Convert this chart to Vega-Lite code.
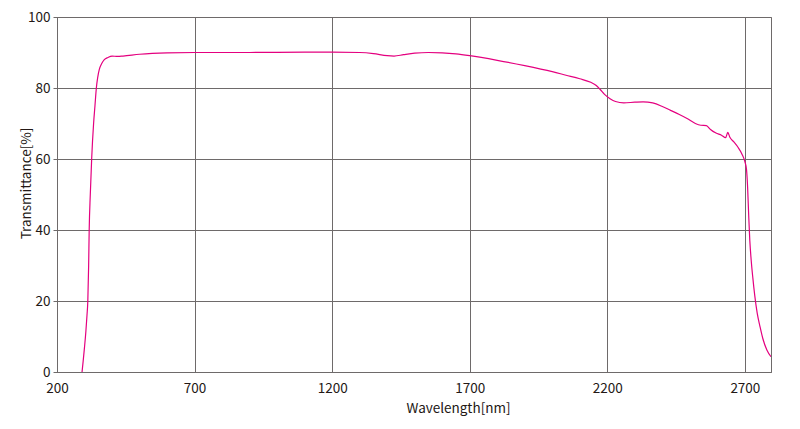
{
  "$schema": "https://vega.github.io/schema/vega-lite/v6.json",
  "width": 714,
  "height": 355,
  "autosize": {"type": "none"},
  "padding": {"left": 57, "top": 17, "right": 29, "bottom": 57},
  "background": "white",
  "config": {
    "font": "Noto Sans CJK JP",
    "view": {"stroke": "#6e6a6a", "strokeWidth": 1},
    "axis": {
      "labelFont": "Noto Sans CJK JP",
      "titleFont": "Noto Sans CJK JP",
      "labelFontSize": 13.5,
      "titleFontSize": 13.5,
      "labelColor": "#231815",
      "titleColor": "#231815",
      "titleFontWeight": "normal",
      "gridColor": "#6e6a6a",
      "gridOpacity": 1,
      "gridWidth": 1,
      "domainColor": "#6e6a6a",
      "tickColor": "#6e6a6a",
      "labelFlush": false,
      "labelOverlap": false
    }
  },
  "data": {
    "values": [
      {"wl": 291, "t": 0}, {"wl": 295, "t": 3}, {"wl": 300, "t": 7}, {"wl": 305, "t": 11.5},
      {"wl": 309, "t": 16}, {"wl": 312, "t": 20}, {"wl": 315, "t": 30}, {"wl": 317, "t": 40},
      {"wl": 321, "t": 50}, {"wl": 326, "t": 60}, {"wl": 333, "t": 70}, {"wl": 338, "t": 75},
      {"wl": 343, "t": 80}, {"wl": 348, "t": 83}, {"wl": 354, "t": 85.3}, {"wl": 362, "t": 86.8},
      {"wl": 372, "t": 88}, {"wl": 385, "t": 88.6}, {"wl": 400, "t": 89}, {"wl": 420, "t": 88.9},
      {"wl": 440, "t": 89.0}, {"wl": 500, "t": 89.5}, {"wl": 600, "t": 89.9}, {"wl": 700, "t": 90.0},
      {"wl": 900, "t": 90.0}, {"wl": 1100, "t": 90.1}, {"wl": 1200, "t": 90.1}, {"wl": 1300, "t": 90.0},
      {"wl": 1350, "t": 89.7}, {"wl": 1400, "t": 89.1}, {"wl": 1425, "t": 89.0}, {"wl": 1460, "t": 89.4},
      {"wl": 1500, "t": 89.8}, {"wl": 1550, "t": 90.0}, {"wl": 1600, "t": 89.9}, {"wl": 1650, "t": 89.6},
      {"wl": 1700, "t": 89.1}, {"wl": 1800, "t": 87.8}, {"wl": 1900, "t": 86.3}, {"wl": 2000, "t": 84.6},
      {"wl": 2050, "t": 83.6}, {"wl": 2100, "t": 82.6}, {"wl": 2140, "t": 81.6}, {"wl": 2160, "t": 80.7},
      {"wl": 2175, "t": 79.5}, {"wl": 2190, "t": 78.2}, {"wl": 2210, "t": 77.0}, {"wl": 2230, "t": 76.2},
      {"wl": 2260, "t": 75.8}, {"wl": 2300, "t": 76.0}, {"wl": 2330, "t": 76.1}, {"wl": 2365, "t": 75.8},
      {"wl": 2400, "t": 74.8}, {"wl": 2430, "t": 73.7}, {"wl": 2460, "t": 72.6}, {"wl": 2490, "t": 71.4},
      {"wl": 2520, "t": 70.0}, {"wl": 2540, "t": 69.5}, {"wl": 2560, "t": 69.4}, {"wl": 2575, "t": 68.3},
      {"wl": 2595, "t": 67.3}, {"wl": 2615, "t": 66.7}, {"wl": 2630, "t": 66.0}, {"wl": 2638, "t": 67.5},
      {"wl": 2645, "t": 66.2}, {"wl": 2660, "t": 64.8}, {"wl": 2675, "t": 63.3}, {"wl": 2690, "t": 61.3},
      {"wl": 2700, "t": 59.3}, {"wl": 2706, "t": 57}, {"wl": 2710, "t": 52}, {"wl": 2714, "t": 44},
      {"wl": 2718, "t": 37}, {"wl": 2723, "t": 31.5}, {"wl": 2729, "t": 26.5}, {"wl": 2736, "t": 21.5},
      {"wl": 2745, "t": 16.5}, {"wl": 2755, "t": 12.8}, {"wl": 2765, "t": 9.5}, {"wl": 2780, "t": 6.2}, {"wl": 2795, "t": 4.3}
    ]
  },
  "mark": {"type": "line", "color": "#e4007f", "strokeWidth": 1.2, "interpolate": "monotone", "clip": true},
  "encoding": {
    "x": {
      "field": "wl", "type": "quantitative",
      "scale": {"domain": [200, 2795], "nice": false, "zero": false},
      "axis": {
        "values": [200, 700, 1200, 1700, 2200, 2700],
        "format": "d",
        "title": "Wavelength[nm]",
        "ticks": false,
        "labelPadding": 9,
        "titleX": 401,
        "titleY": 40,
        "titleAnchor": null,
        "titleAlign": "center",
        "titleBaseline": "alphabetic"
      }
    },
    "y": {
      "field": "t", "type": "quantitative",
      "scale": {"domain": [0, 100], "nice": false},
      "axis": {
        "values": [0, 20, 40, 60, 80, 100],
        "format": "d",
        "title": "Transmittance[%]",
        "tickSize": 4,
        "labelPadding": 3,
        "titleX": -27,
        "titleY": 166,
        "titleAnchor": null,
        "titleAlign": "center",
        "titleBaseline": "alphabetic"
      }
    }
  }
}
